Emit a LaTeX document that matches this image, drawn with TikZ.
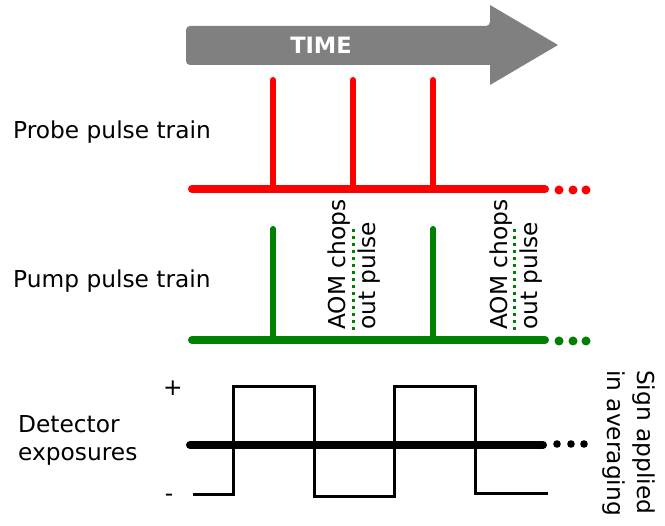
\documentclass[tikz,border=0pt]{standalone}
\usepackage{fontspec}
\setmainfont{DejaVu Sans}
\definecolor{pumpgreen}{RGB}{0,128,0}
\definecolor{timegray}{RGB}{128,128,128}
\tikzset{
  label/.style={inner sep=0pt,font=\fontsize{23.3}{28}\selectfont},
  vlabel/.style={inner sep=0pt,align=left,font=\fontsize{23.3}{30}\selectfont},
  train/.style={line width=8pt,line cap=round},
  pulse/.style={line width=6pt,line cap=round},
  chopped/.style={pumpgreen,line width=3pt,dash pattern=on 3pt off 4pt},
}
\begin{document}
\begin{tikzpicture}[x=1pt,y=-1pt]
\useasboundingbox (0,0) rectangle (665,526);
% time arrow
\fill[timegray] (490,26) -- (490,5) -- (558,45) -- (490,85) -- (490,65)
  [rounded corners=4pt] -- (186,65) -- (186,26) -- cycle;
\node[text=white,inner sep=0pt,font=\fontsize{22.5}{26}\selectfont\bfseries] (time) at (321,45) {TIME};

% probe
\node[label,anchor=base west] (probe) at (13,139) {Probe pulse train};
\coordinate (r0) at (192,189);
\coordinate (r1) at (545,189);
\draw[train,red] (r0) -- (r1);
\foreach \x in {273,353,433}
  \draw[pulse,red] (\x,80) -- (\x,189);
\foreach \x in {559,573,586}
  \fill[red] (\x,190) circle (4.5);

% pump
\node[label,anchor=base west] (pump) at (13,288) {Pump pulse train};
\coordinate (g0) at (192,340);
\coordinate (g1) at (545,340);
\draw[train,pumpgreen] (g0) -- (g1);
\foreach \x in {273,433}
  \draw[pulse,pumpgreen] (\x,229) -- (\x,340);
\foreach \x in {353,514}
  \draw[chopped] (\x,229) -- (\x,333);
\node[vlabel,rotate=90,anchor=north west] (aom1) at (328,330) {AOM chops\\out pulse};
\node[vlabel,rotate=90,anchor=north west] (aom2) at (490,330) {AOM chops\\out pulse};
\foreach \x in {559,573,586}
  \fill[pumpgreen] (\x,341) circle (4.5);

% detector
\node[label,anchor=west,align=left] (det) at (18,440) {Detector\\exposures};
\node[label] (plus) at (173,388) {+};
\node[label] (minus) at (169,498) {-};
\coordinate (k0) at (190,445);
\coordinate (k1) at (543,445);
\draw[line width=3pt] (193,495) -- (233,495) -- (233,387) -- (314,387) -- (314,497)
  -- (394,497) -- (394,387) -- (475,387) -- (475,494) -- (548,494);
\draw[train,black] (k0) -- (k1);
\foreach \x in {557,571,584}
  \fill (\x,444) circle (3.8);
\node[vlabel,rotate=-90,anchor=north west] (sign) at (655,370) {Sign applied\\in averaging};
\end{tikzpicture}
\end{document}
